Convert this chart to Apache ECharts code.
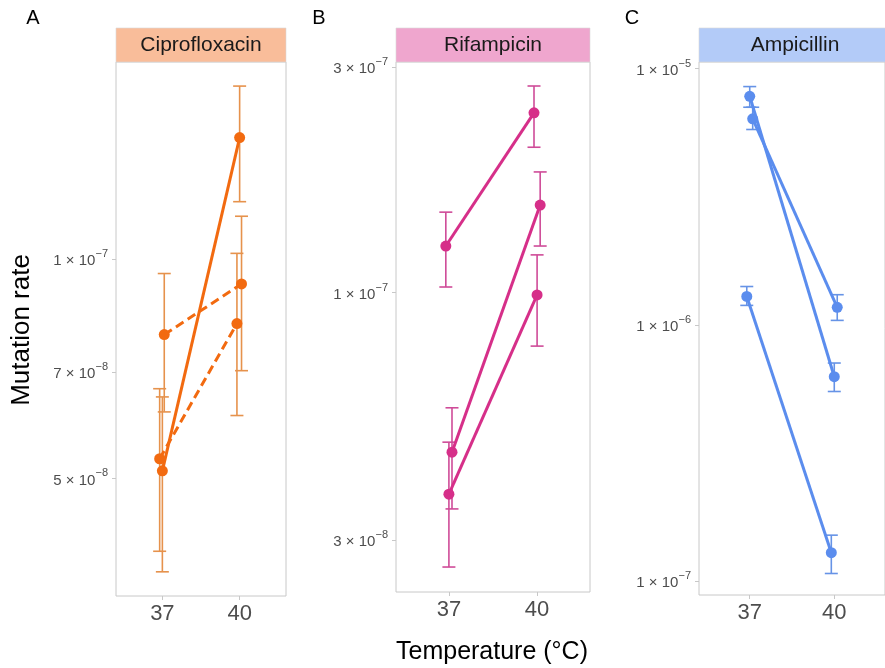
<!DOCTYPE html>
<html><head><meta charset="utf-8">
<script src="https://cdn.jsdelivr.net/npm/echarts@6/dist/echarts.min.js"></script>
<style>html,body{margin:0;padding:0;background:#fff}#c{width:885px;height:668px}</style>
</head><body><div id="c"></div>
<script>
// ---------- data ----------
const temperatures = ['37', '40'];
const xSlots = [1, 2];

// Panel A : Ciprofloxacin (three lines: solid, dashed, dashed)
const ciproSolidMean = [5.12e-8, 1.47e-7];
const ciproSolidLow  = [3.72e-8, 1.20e-7];
const ciproSolidHigh = [6.47e-8, 1.73e-7];
const ciproDash1Mean = [7.88e-8, 9.25e-8];
const ciproDash1Low  = [6.17e-8, 7.03e-8];
const ciproDash1High = [9.56e-8, 1.146e-7];
const ciproDash2Mean = [5.32e-8, 8.16e-8];
const ciproDash2Low  = [3.97e-8, 6.10e-8];
const ciproDash2High = [6.64e-8, 1.019e-7];
const ciproTicks = [5e-8, 7e-8, 1e-7];

// Panel B : Rifampicin
const rifa1Mean = [1.255e-7, 2.40e-7];
const rifa1Low  = [1.028e-7, 2.03e-7];
const rifa1High = [1.48e-7, 2.735e-7];
const rifa2Mean = [4.60e-8, 1.532e-7];
const rifa2Low  = [3.49e-8, 1.255e-7];
const rifa2High = [5.71e-8, 1.80e-7];
const rifa3Mean = [3.75e-8, 9.89e-8];
const rifa3Low  = [2.63e-8, 7.71e-8];
const rifa3High = [4.83e-8, 1.202e-7];
const rifaTicks = [3e-8, 1e-7, 3e-7];

// Panel C : Ampicillin
const ampi1Mean = [7.79e-6, 6.27e-7];
const ampi1Low  = [7.06e-6, 5.49e-7];
const ampi1High = [8.50e-6, 7.09e-7];
const ampi2Mean = [6.36e-6, 1.17e-6];
const ampi2Low  = [5.78e-6, 1.04e-6];
const ampi2High = [7.06e-6, 1.31e-6];
const ampi3Mean = [1.29e-6, 1.29e-7];
const ampi3Low  = [1.19e-6, 1.07e-7];
const ampi3High = [1.41e-6, 1.51e-7];
const ampiTicks = [1e-7, 1e-6, 1e-5];

// ---------- styling / layout ----------
const FONT = "'Liberation Sans', Arial, sans-serif";
const DODGE = 0.035;
const panels = [
  { name: 'Ciprofloxacin', letter: 'A', strip: '#F9BD9A', line: '#F26A10', err: '#E6924C',
    left: 116, width: 170, top: 62, height: 534, ymin: 3.446e-8, ymax: 1.867e-7, ticks: ciproTicks, letterX: 33,
    lines: [
      { mean: ciproSolidMean, low: ciproSolidLow, high: ciproSolidHigh, dodge: 0, type: 'solid' },
      { mean: ciproDash1Mean, low: ciproDash1Low, high: ciproDash1High, dodge: DODGE * 0.7, type: [9, 5] },
      { mean: ciproDash2Mean, low: ciproDash2Low, high: ciproDash2High, dodge: -DODGE, type: [9, 5] }
    ] },
  { name: 'Rifampicin', letter: 'B', strip: '#EFA6CE', line: '#D62F89', err: '#CF4B98',
    left: 396, width: 194, top: 62, height: 530, ymin: 2.329e-8, ymax: 3.074e-7, ticks: rifaTicks, letterX: 319,
    lines: [
      { mean: rifa1Mean, low: rifa1Low, high: rifa1High, dodge: -DODGE, type: 'solid' },
      { mean: rifa2Mean, low: rifa2Low, high: rifa2High, dodge: DODGE, type: 'solid' },
      { mean: rifa3Mean, low: rifa3Low, high: rifa3High, dodge: 0, type: 'solid' }
    ] },
  { name: 'Ampicillin', letter: 'C', strip: '#B3CBF8', line: '#5B8DEE', err: '#6693E6',
    left: 699, width: 192, top: 62, height: 533, ymin: 8.82e-8, ymax: 1.06e-5, ticks: ampiTicks, letterX: 632,
    lines: [
      { mean: ampi1Mean, low: ampi1Low, high: ampi1High, dodge: 0, type: 'solid' },
      { mean: ampi2Mean, low: ampi2Low, high: ampi2High, dodge: DODGE, type: 'solid' },
      { mean: ampi3Mean, low: ampi3Low, high: ampi3High, dodge: -DODGE, type: 'solid' }
    ] }
];

function sciLabel(v) {
  const e = Math.floor(Math.log10(v) + 1e-9);
  const m = Math.round(v / Math.pow(10, e));
  return '{m|' + m + ' \u00d7 10}{e|\u2212' + (-e) + '}';
}

const grid = [], xAxis = [], yAxis = [], series = [], graphic = [];
panels.forEach((p, i) => {
  grid.push({ left: p.left, top: p.top, width: p.width, height: p.height, show: true,
              borderColor: '#c8c8c8', borderWidth: 1, backgroundColor: 'transparent' });
  xAxis.push({ type: 'value', gridIndex: i, min: 0.4, max: 2.6,
    axisLine: { show: false }, splitLine: { show: false },
    axisTick: { show: true, length: 4, lineStyle: { color: '#c8c8c8' }, customValues: xSlots },
    axisLabel: { customValues: xSlots, margin: 7, color: '#4d4d4d', fontSize: 22, fontFamily: FONT,
                 formatter: v => temperatures[Math.round(v) - 1] } });
  yAxis.push({ type: 'log', logBase: 10, gridIndex: i, min: p.ymin, max: p.ymax,
    axisLine: { show: false }, splitLine: { show: false }, minorTick: { show: false },
    axisTick: { show: true, length: 4, lineStyle: { color: '#c8c8c8' }, customValues: p.ticks },
    axisLabel: { customValues: p.ticks, margin: 8, formatter: sciLabel,
      rich: { m: { fontSize: 15, color: '#4d4d4d', fontFamily: FONT, padding: [4, 0, 0, 0] },
              e: { fontSize: 11, color: '#4d4d4d', fontFamily: FONT, padding: [0, 0, 10, 0] } } } });
  p.lines.forEach(l => {
    const errData = xSlots.map((x, k) => [x + l.dodge, l.low[k], l.high[k]]);
    series.push({ type: 'custom', xAxisIndex: i, yAxisIndex: i, z: 1, silent: true,
      encode: { x: 0, y: [1, 2] }, data: errData,
      renderItem: (params, api) => {
        const x = api.value(0);
        const a = api.coord([x, api.value(1)]), b = api.coord([x, api.value(2)]);
        const w = 6.5, st = { stroke: p.err, lineWidth: 1.6 };
        return { type: 'group', children: [
          { type: 'line', shape: { x1: a[0], y1: a[1], x2: b[0], y2: b[1] }, style: st },
          { type: 'line', shape: { x1: a[0] - w, y1: a[1], x2: a[0] + w, y2: a[1] }, style: st },
          { type: 'line', shape: { x1: b[0] - w, y1: b[1], x2: b[0] + w, y2: b[1] }, style: st }
        ] };
      } });
    series.push({ type: 'line', xAxisIndex: i, yAxisIndex: i, z: 2, silent: true,
      data: xSlots.map((x, k) => [x + l.dodge, l.mean[k]]),
      symbol: 'circle', symbolSize: 11, showSymbol: true,
      itemStyle: { color: p.line },
      lineStyle: { color: p.line, width: 3, type: l.type } });
  });
  graphic.push({ type: 'rect', shape: { x: p.left, y: 28, width: p.width, height: 34 },
                 style: { fill: p.strip, stroke: '#d9d9d9', lineWidth: 0.6 } });
  graphic.push({ type: 'text', x: p.left + p.width / 2, y: 45,
                 style: { text: p.name, fill: '#1a1a1a', font: '21px ' + FONT, align: 'center', verticalAlign: 'middle' } });
  graphic.push({ type: 'text', x: p.letterX, y: 18,
                 style: { text: p.letter, fill: '#000', font: '20px ' + FONT, align: 'center', verticalAlign: 'middle' } });
});
graphic.push({ type: 'text', x: 22, y: 330, rotation: Math.PI / 2,
               style: { text: 'Mutation rate', fill: '#000', font: '26px ' + FONT, align: 'center', verticalAlign: 'middle' } });
graphic.push({ type: 'text', x: 492, y: 652,
               style: { text: 'Temperature (\u00b0C)', fill: '#000', font: '25px ' + FONT, align: 'center', verticalAlign: 'middle' } });

const chart = echarts.init(document.getElementById('c'), null, { renderer: 'canvas' });
chart.setOption({ animation: false, backgroundColor: '#fff', grid, xAxis, yAxis, series, graphic });
</script></body></html>
